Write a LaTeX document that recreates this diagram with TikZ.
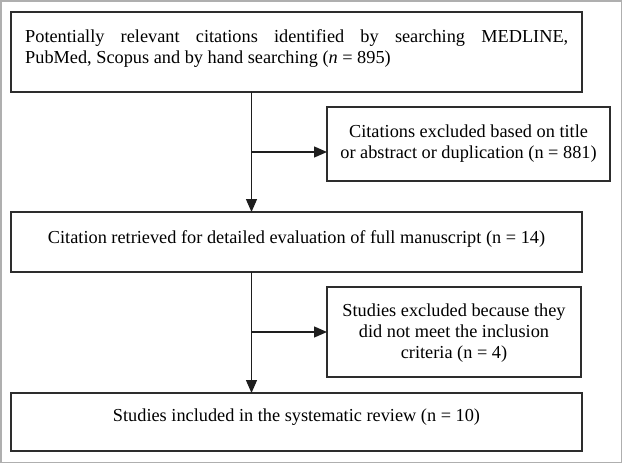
\documentclass[tikz,border=0pt]{standalone}
\usepackage{fontspec}
\setmainfont{Liberation Serif}
\usetikzlibrary{arrows.meta}
\definecolor{boxc}{RGB}{45,45,45}
\definecolor{linec}{RGB}{30,30,30}
\definecolor{framec}{RGB}{175,175,175}
\begin{document}
\begin{tikzpicture}[x=1pt,y=-1pt,
  box/.style={draw=boxc, line width=1.6pt, inner sep=0pt, outer sep=0pt, anchor=north west},
  txt/.style={inner sep=0pt, font=\fontsize{18.3}{21}\selectfont, anchor=base, text=black},
  arr/.style={draw=linec, line width=1.3pt, -{Triangle[length=13pt,width=11pt]}},
]
\fill[white] (0,0) rectangle (622,463);
\draw[framec, line width=1.5pt] (0.75,0.75) rectangle (621.25,462.25);
\useasboundingbox (0,0) rectangle (622,463);

\node[box, minimum width=571pt, minimum height=80pt] (b1) at (11,12) {};
\node[box, minimum width=283pt, minimum height=74pt] (b2) at (327,107) {};
\node[box, minimum width=571pt, minimum height=60pt] (b3) at (11,212) {};
\node[box, minimum width=254pt, minimum height=90pt] (b4) at (327,287) {};
\node[box, minimum width=571pt, minimum height=58pt] (b5) at (11,393) {};

\node[txt, text width=543pt, align=justify, anchor=base west] (t1) at (25,42)
  {Potentially relevant citations identified by searching MEDLINE,\linebreak PubMed, Scopus and by hand searching (\textit{n} = 895)};
\node[txt, align=center] (t2) at (468.5,158)
  {Citations excluded based on title\\or abstract or duplication (n = 881)};
\node[txt] (t3) at (296.5,243)
  {Citation retrieved for detailed evaluation of full manuscript (n = 14)};
\node[txt, align=center] (t4) at (454,358)
  {Studies excluded because they\\did not meet the inclusion\\criteria (n = 4)};
\node[txt] (t5) at (296.5,421)
  {Studies included in the systematic review (n = 10)};

\coordinate (j1) at (251.5,152);
\coordinate (j2) at (251.5,332);
\draw[arr] (b1.south -| j1) -- (b3.north -| j1);
\draw[arr] (j1) -- (b2.west |- j1);
\draw[arr] (b3.south -| j2) -- (b5.north -| j2);
\draw[arr] (j2) -- (b4.west |- j2);
\end{tikzpicture}
\end{document}
